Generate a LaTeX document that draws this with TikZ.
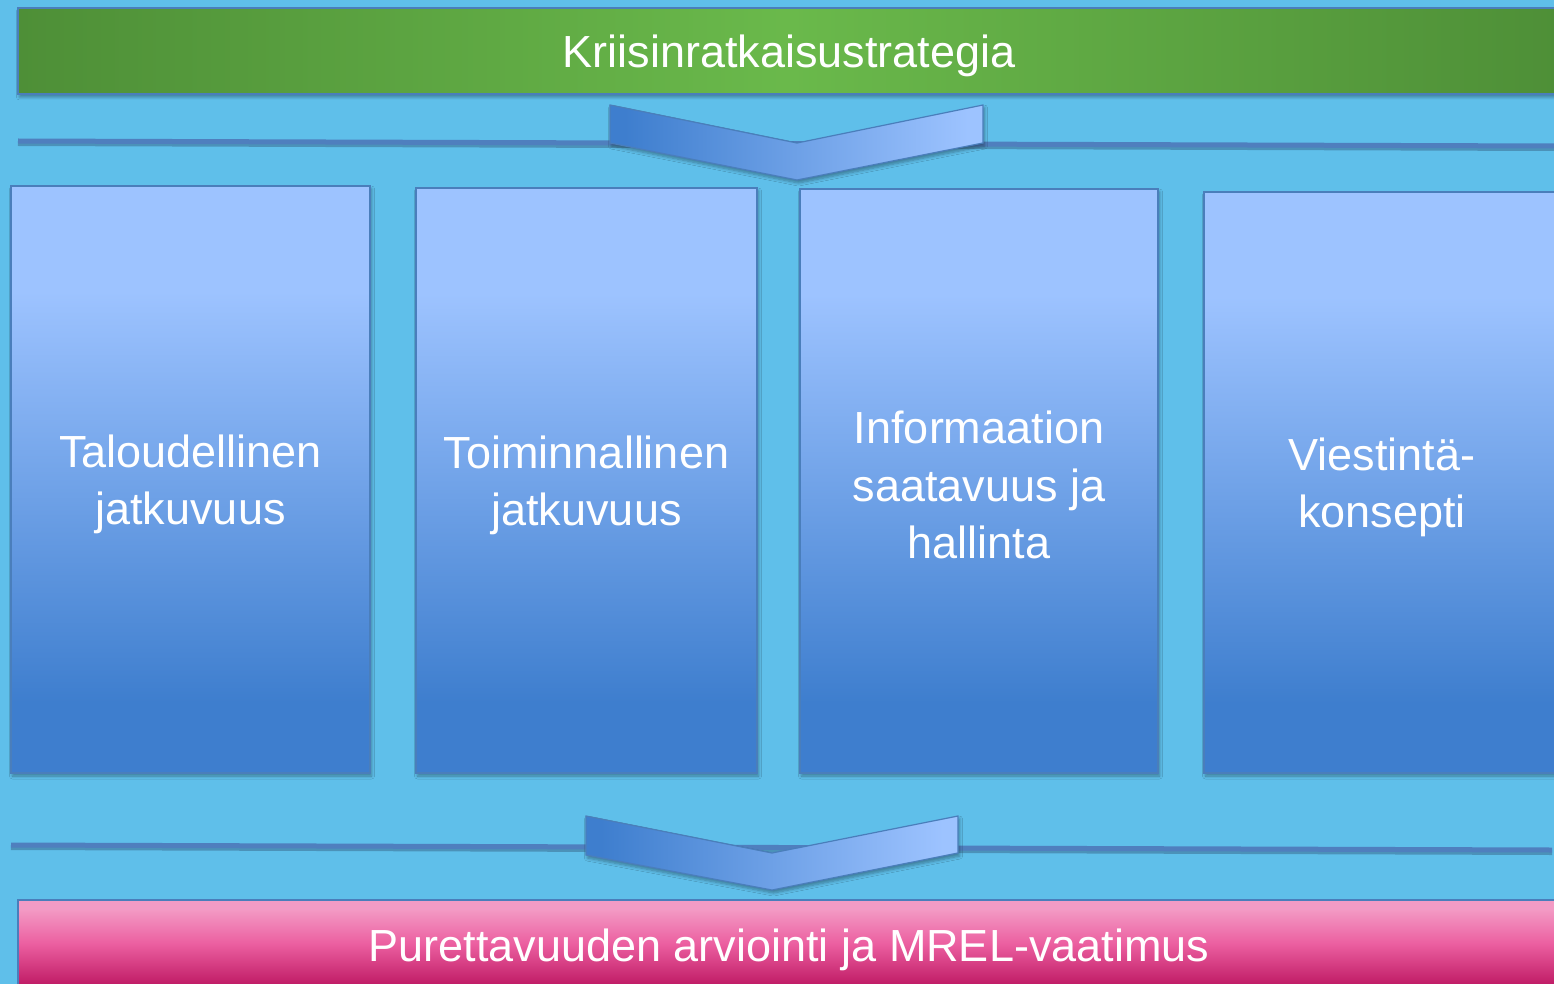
\documentclass[tikz,border=0pt]{standalone}
\usepackage{fontspec}
\setmainfont{Liberation Sans}
\usetikzlibrary{shadows.blur}
\definecolor{bg}{HTML}{5FBFEA}
\definecolor{edge}{HTML}{4A7EBB}
\definecolor{sepcol}{HTML}{4F7FBE}
\definecolor{gdark}{HTML}{4E8F37}
\definecolor{glight}{HTML}{6AB94B}
\definecolor{ptop}{HTML}{F39BC5}
\definecolor{pmid}{HTML}{EC60A1}
\definecolor{pbot}{HTML}{C01C66}
\definecolor{blight}{HTML}{9DC3FF}
\definecolor{bdark}{HTML}{3E7ECE}
\pgfdeclareverticalshading{pillarshade}{100bp}{color(0bp)=(bdark); color(31bp)=(bdark); color(66bp)=(blight); color(100bp)=(blight)}
\pgfdeclarehorizontalshading{chevshade}{100bp}{color(0bp)=(bdark); color(27bp)=(bdark); color(73bp)=(blight); color(100bp)=(blight)}
\pgfdeclareverticalshading{pinkshade}{100bp}{color(0bp)=(pbot); color(26bp)=(pbot); color(50bp)=(pmid); color(70bp)=(ptop); color(100bp)=(ptop)}
\tikzset{
  softshadow/.style={blur shadow={shadow blur steps=6, shadow xshift=1.5pt, shadow yshift=-3pt, shadow blur radius=3pt, shadow opacity=35}},
  bigtext/.style={text=white, font=\fontsize{45}{57.5}\selectfont, align=center},
  pillar/.style={rectangle, draw=edge, line width=1.3pt, shading=pillarshade, softshadow, inner sep=0pt},
  topbar/.style={rectangle, draw=edge, line width=1.3pt, left color=gdark, right color=gdark, middle color=glight, softshadow, inner sep=0pt, minimum width=1542pt, minimum height=86pt},
  botbar/.style={rectangle, draw=edge, line width=1.3pt, shading=pinkshade, inner sep=0pt, minimum width=1542pt, minimum height=86pt},
  sepline/.style={draw=sepcol, line width=5pt},
  chev/.style={draw=edge, line width=1.2pt, shading=chevshade, softshadow},
}
\begin{document}
\begin{tikzpicture}[x=1pt,y=-1pt]
\useasboundingbox (0,0) rectangle (1554,984);
\fill[bg] (0,0) rectangle (1554,984);
\begin{scope}
\clip (0,0) rectangle (1554,984);
% separator lines
\coordinate (l1a) at (18,141);
\coordinate (l1b) at (1554,146);
\coordinate (l2a) at (11,845);
\coordinate (l2b) at (1552,850);
\draw[sepline, draw=black!50!sepcol, opacity=0.35] ([yshift=-2.5pt]l1a) -- ([yshift=-2.5pt]l1b);
\draw[sepline] (l1a) -- (l1b);
\draw[sepline, draw=black!50!sepcol, opacity=0.35] ([yshift=-2.5pt]l2a) -- ([yshift=-2.5pt]l2b);
\draw[sepline] (l2a) -- (l2b);
% top bar
\node[topbar] (strat) at (789,51) {};
\node[bigtext] (strattxt) at ([yshift=-5pt]strat.center) {Kriisinratkaisustrategia};
% chevrons
\path[chev] (610,105) -- (797,143) -- (983,105) -- (983,143) -- (797,180) -- (610,143) -- cycle;
\path[chev] (586,816) -- (772,853) -- (958,816) -- (958,853) -- (772,890) -- (586,855) -- cycle;
% pillars
\node[pillar, minimum width=359pt, minimum height=587pt] (p1) at (190.5,479.5) {};
\node[pillar, minimum width=341pt, minimum height=585pt] (p2) at (586.5,480.5) {};
\node[pillar, minimum width=358pt, minimum height=584pt] (p3) at (979,481) {};
\node[pillar, minimum width=356pt, minimum height=581pt] (p4) at (1382,482.5) {};
\node[bigtext] (t1) at ([yshift=-5pt]p1.center) {Taloudellinen\\jatkuvuus};
\node[bigtext] (t2) at ([yshift=-5pt]p2.center) {Toiminnallinen\\jatkuvuus};
\node[bigtext] (t3) at ([yshift=-4pt]p3.center) {Informaation\\saatavuus ja\\hallinta};
\node[bigtext] (t4) at ([yshift=-5pt]p4.center) {Viestintä-\\konsepti};
% bottom bar
\node[botbar] (mrel) at (789,943) {};
\node[bigtext] (mreltxt) at ([yshift=-7pt]mrel.center) {Purettavuuden arviointi ja MREL-vaatimus};
\end{scope}
\end{tikzpicture}
\end{document}
